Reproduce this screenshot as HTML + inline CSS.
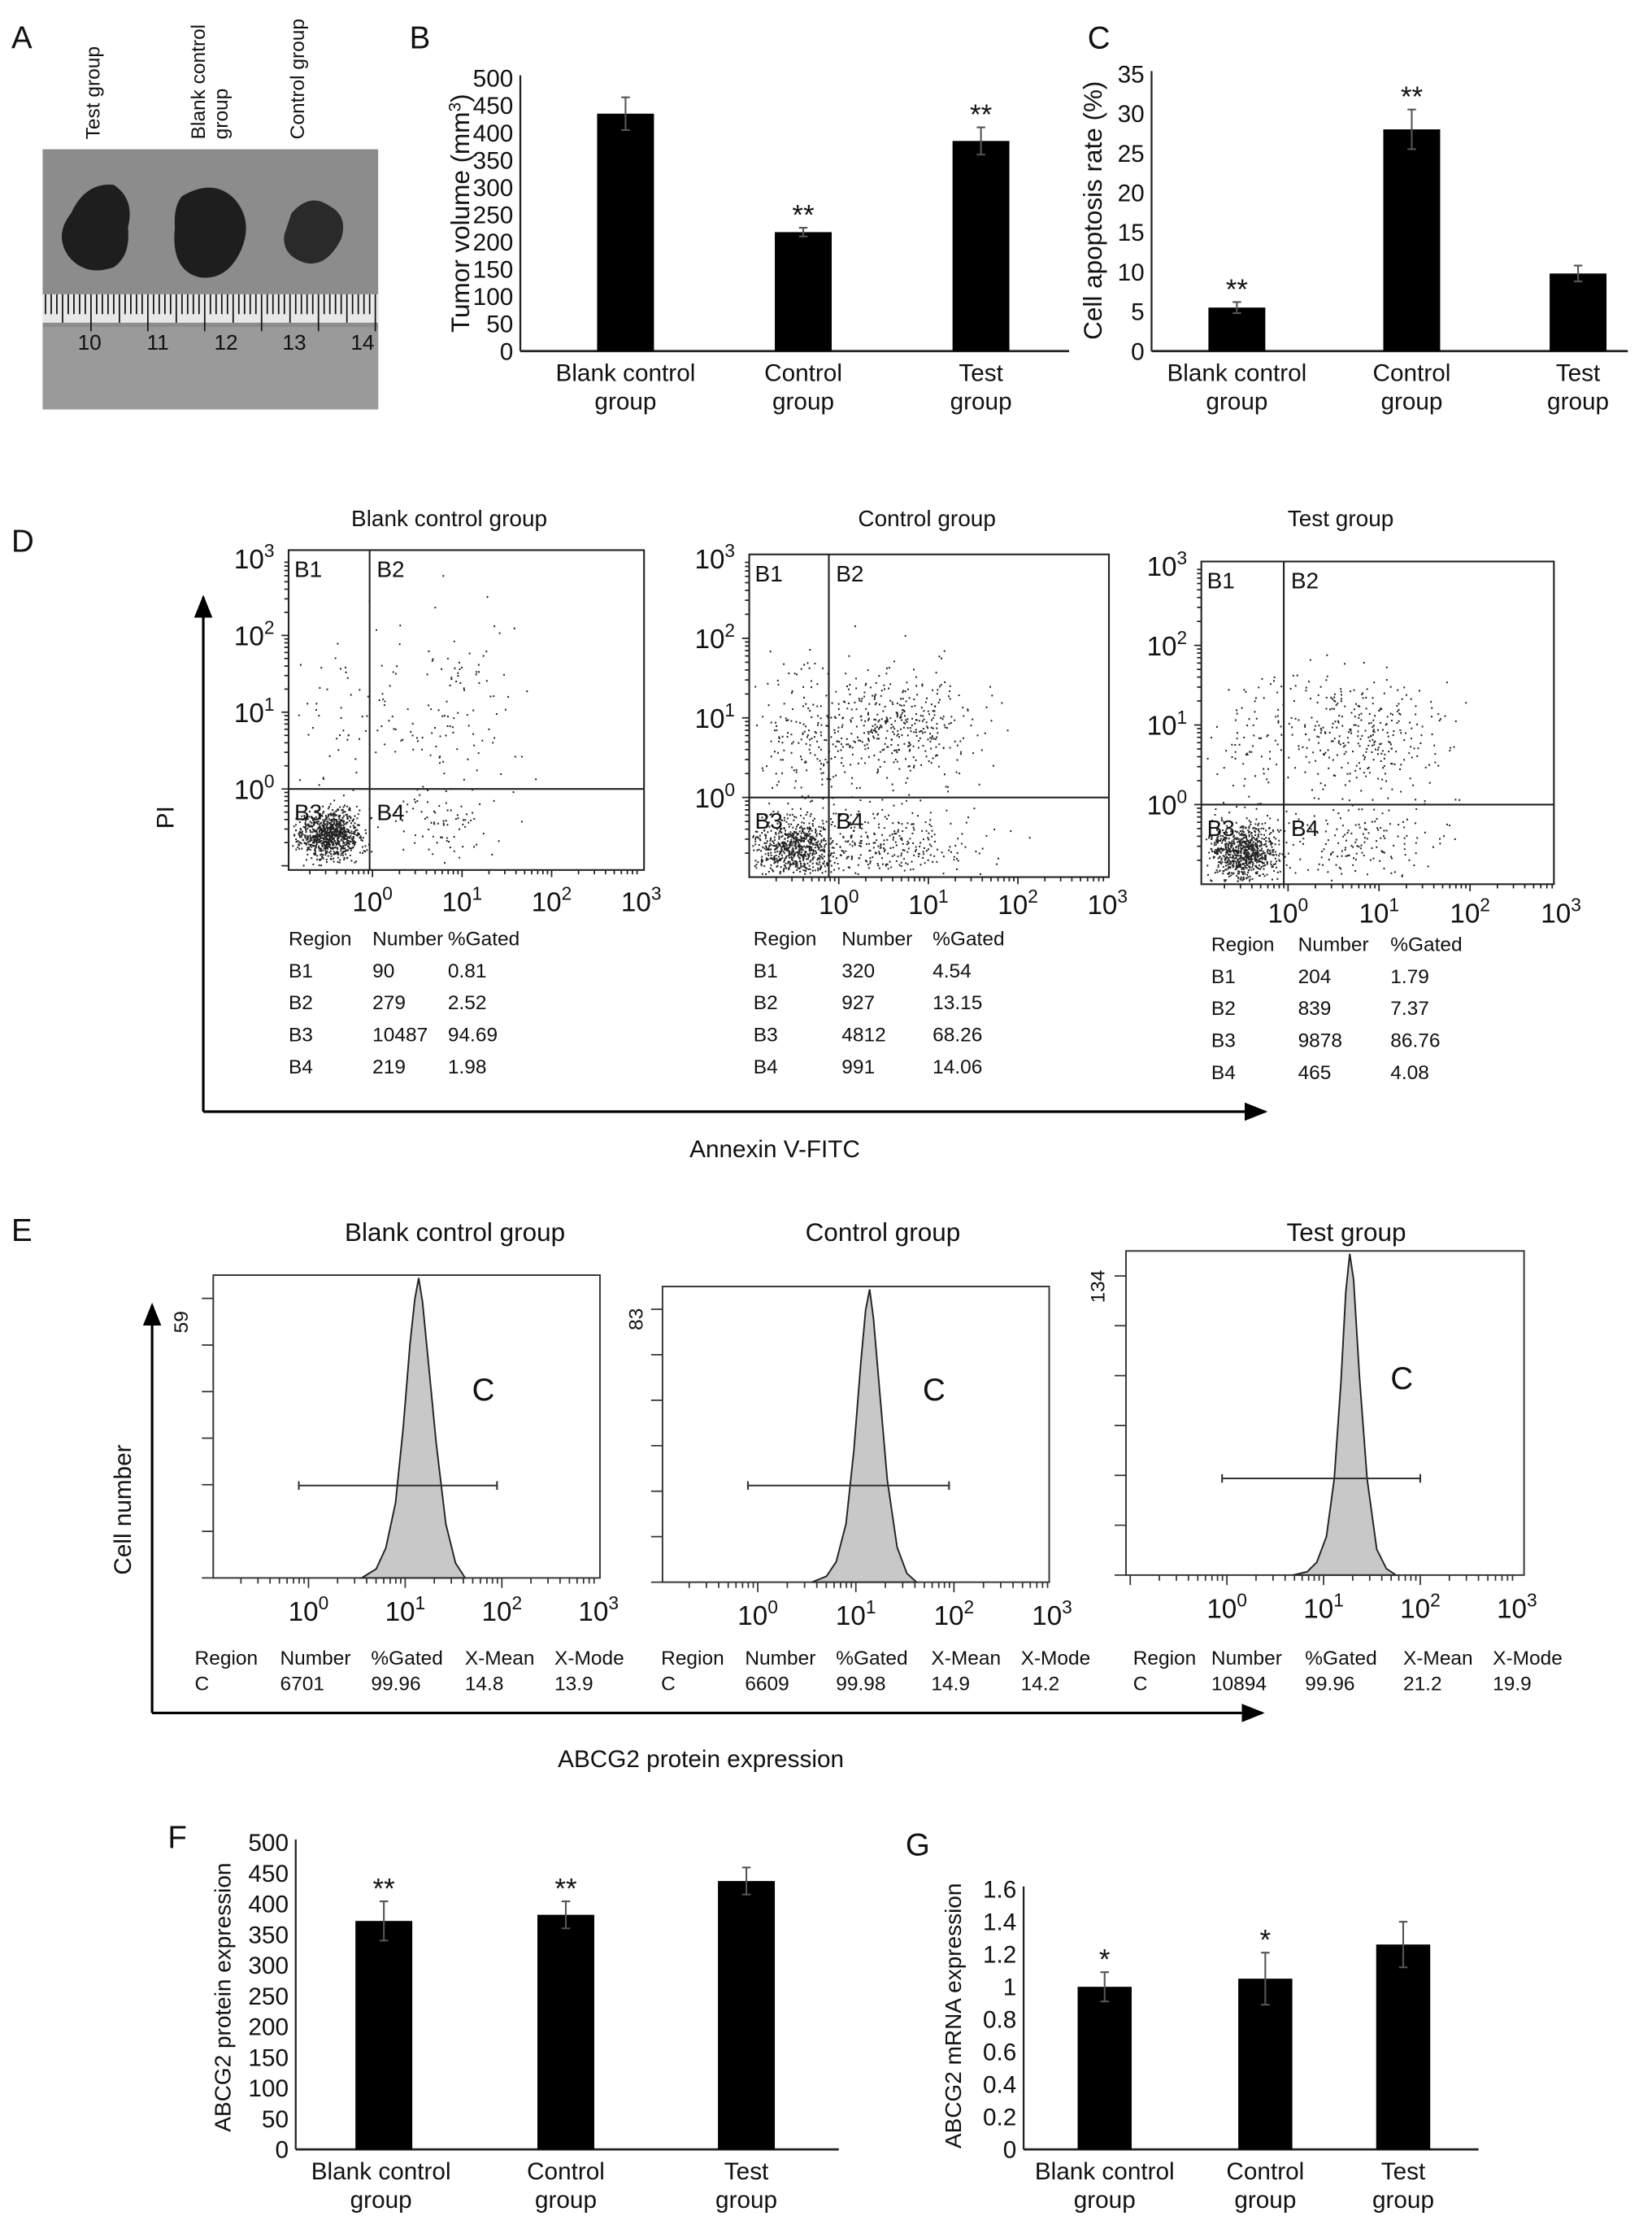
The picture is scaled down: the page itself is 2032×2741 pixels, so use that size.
<!DOCTYPE html>
<html><head><meta charset="utf-8">
<style>
html,body{margin:0;padding:0;background:#fff;}
svg{display:block;font-family:"Liberation Sans",Arial,sans-serif;}
</style></head>
<body>
<svg id="fig" width="2032" height="2741" viewBox="0 0 1162 1568" preserveAspectRatio="none" xmlns="http://www.w3.org/2000/svg">
<defs>
<marker id="arr" viewBox="0 0 10 10" refX="9" refY="5" markerWidth="9" markerHeight="9" orient="auto-start-reverse"><path d="M0,1 L10,5 L0,9 Z" fill="#000"/></marker>
</defs>
</svg>
<script>
// ---------- DATA ----------
const groupsB = ["Blank control|group","Control|group","Test|group"];
const tumorVals = [435, 218, 385];
const tumorErr = [30, 8, 25];
const tumorStars = ["", "**", "**"];
const tumorTicks = [0,50,100,150,200,250,300,350,400,450,500];

const apopVals = [5.5, 28, 9.8];
const apopErr = [0.7, 2.5, 1.0];
const apopStars = ["**", "**", ""];
const apopTicks = [0,5,10,15,20,25,30,35];

const protVals = [372, 382, 437];
const protErr = [32, 22, 22];
const protStars = ["**", "**", ""];
const protTicks = [0,50,100,150,200,250,300,350,400,450,500];

const mrnaVals = [1.0, 1.05, 1.26];
const mrnaErr = [0.09, 0.16, 0.14];
const mrnaStars = ["*", "*", ""];
const mrnaTicks = ["0","0.2","0.4","0.6","0.8","1","1.2","1.4","1.6"];

const dTitles = ["Blank control group","Control group","Test group"];
const dRegions = ["B1","B2","B3","B4"];
const dNumbers = [[90,279,10487,219],[320,927,4812,991],[204,839,9878,465]];
const dGated = [["0.81","2.52","94.69","1.98"],["4.54","13.15","68.26","14.06"],["1.79","7.37","86.76","4.08"]];
// clusters: [logX, logY, sdX, sdY, count]
const dClusters = [
 [[-0.5,-0.6,0.18,0.16,900],[0.9,0.9,0.45,0.6,130],[-0.45,1.0,0.25,0.55,45],[0.8,-0.5,0.35,0.25,70]],
 [[-0.5,-0.65,0.22,0.2,700],[0.6,0.9,0.45,0.35,420],[-0.4,0.7,0.3,0.45,160],[0.5,-0.6,0.5,0.25,330]],
 [[-0.5,-0.6,0.2,0.18,800],[0.8,0.9,0.45,0.4,320],[-0.4,0.8,0.3,0.5,90],[0.8,-0.5,0.45,0.25,160]]
];

const eTitles = ["Blank control group","Control group","Test group"];
const eMaxLabel = ["59","83","134"];
const eStats = [["6701","99.96","14.8","13.9"],["6609","99.98","14.9","14.2"],["10894","99.96","21.2","19.9"]];
const histLogX = [0.55,0.7,0.8,0.9,0.98,1.05,1.1,1.14,1.18,1.24,1.32,1.42,1.52,1.62];
const histY = [[0,0.03,0.1,0.25,0.5,0.78,0.93,1.0,0.92,0.72,0.45,0.18,0.05,0],
               [0,0.02,0.07,0.2,0.45,0.75,0.93,1.0,0.9,0.66,0.35,0.12,0.03,0],
               [0,0.01,0.04,0.12,0.3,0.6,0.88,1.0,0.92,0.62,0.3,0.08,0.02,0]];
const histShift = [0.0, 0.0, 0.13];

// ---------- HELPERS ----------
const NS="http://www.w3.org/2000/svg";
const svg=document.getElementById('fig');
function mk(tag,attrs,parent){const e=document.createElementNS(NS,tag);for(const k in attrs)e.setAttribute(k,attrs[k]);(parent||svg).appendChild(e);return e;}
function txt(s,x,y,size,anchor,parent,extra){const t=mk('text',Object.assign({x:x,y:y,'font-size':size,'text-anchor':anchor||'start',fill:'#111'},extra||{}),parent);t.textContent=s;return t;}
function grp(parent){return mk('g',{},parent);}

function panelLetter(L,x,y){const t=txt(L,x,y,22,'start');

}

// ---------- BAR CHART ----------
function barChart(o){
 const g=grp(); 
 
 const ys=v=>o.y0-(v-o.min)/(o.max-o.min)*(o.y0-o.y1);
 mk('line',{x1:o.ax,y1:o.y1-2,x2:o.ax,y2:o.y0,stroke:'#222','stroke-width':1.3},g);
 const xl=mk('line',{x1:o.ax,y1:o.y0,x2:o.xend,y2:o.y0,stroke:'#222','stroke-width':1.6},g);
  
 o.ticks.forEach(tk=>{const v=parseFloat(tk);const t=txt(String(tk),o.ax-5,ys(v)+6,o.tfs||17,'end',g,{'font-stretch':'condensed'});
   });
 o.vals.forEach((v,i)=>{
  const cx=o.cx[i];
  const r=mk('rect',{x:cx-o.bw/2,y:ys(v),width:o.bw,height:o.y0-ys(v),fill:'#000'},g);
   
  const et=ys(v+o.err[i]), eb=ys(v-o.err[i]);
  const e=mk('path',{d:`M${cx},${et}V${eb}M${cx-3},${et}H${cx+3}M${cx-3},${eb}H${cx+3}`,stroke:'#555','stroke-width':1.2,fill:'none'},g);
   
  if(o.stars[i]){const s=txt(o.stars[i],cx,et-2,20,'middle',g);}
  const parts=groupsB[i].split('|');
  parts.forEach((p,k)=>{const t=txt(p,cx+(o.lx?o.lx[i]:0),o.y0+21+k*20,17,'middle',g);});
 });
 const yt=txt('',0,0,o.yfs||18,'middle',g,{transform:`translate(${o.ytx},${o.yty}) rotate(-90)`});
  
 yt.innerHTML=o.ytitle;
}

// ---------- PANEL A ----------
(function(){
 const g=grp();  
 mk('rect',{x:30,y:105,width:236,height:183,fill:'#8c8c8c'},g);
 mk('rect',{x:30,y:230,width:236,height:58,fill:'#9a9a9a'},g);
 mk('rect',{x:30,y:207,width:236,height:20,fill:'#e8e8e8'},g);
 for(let i=0;i<59;i++){const x=32+i*4;const L=(i%10===8)?26:(i%5===3?20:14);mk('line',{x1:x,y1:207,x2:x,y2:207+L,stroke:'#111','stroke-width':1},g);}
 [10,11,12,13,14].forEach((n,i)=>{const t=txt(String(n),63+i*48,246,15,'middle',g);});
 mk('path',{d:'M50,150 Q60,128 80,130 Q95,140 90,160 Q92,180 80,188 Q60,195 48,180 Q38,165 50,150Z',fill:'#1e1e1e'},g);
 mk('path',{d:'M128,138 Q150,125 165,140 Q178,155 170,175 Q160,198 140,195 Q120,190 123,160 Q122,145 128,138Z',fill:'#1e1e1e'},g);
 mk('path',{d:'M205,150 Q218,135 232,145 Q245,152 240,168 Q230,188 215,185 Q198,180 200,165Z',fill:'#2a2a2a'},g);
 [['Test group',70],['Blank control',144],['group',160],['Control group',214]].forEach(a=>{
  const t=txt(a[0],0,0,14,'start',g,{transform:`translate(${a[1]},98) rotate(-90)`});
   });
})();
panelLetter('A',8,34);

// ---------- PANEL B ----------
panelLetter('B',288,34);
barChart({name:'tumor-volume-chart',vals:tumorVals,err:tumorErr,stars:tumorStars,ticks:tumorTicks,min:0,max:500,ax:366,y0:247,y1:55,xend:752,cx:[440,565,690],bw:40,ytx:330,yty:150,ytitle:'Tumor volume (mm<tspan dy="-6" font-size="12">3</tspan><tspan dy="6">)</tspan>'});

// ---------- PANEL C ----------
panelLetter('C',765,34);
barChart({name:'apoptosis-rate-chart',vals:apopVals,err:apopErr,stars:apopStars,ticks:apopTicks,min:0,max:35,ax:810,y0:247,y1:52,xend:1145,cx:[870,993,1110],bw:40,ytx:775,yty:148,ytitle:'Cell apoptosis rate (%)'});

// ---------- PANEL D ----------
panelLetter('D',8,388);
(function(){
 const a1=mk('line',{x1:143,y1:782,x2:143,y2:420,stroke:'#000','stroke-width':1.8,'marker-end':'url(#arr)'});
  
 const a2=mk('line',{x1:143,y1:782,x2:890,y2:782,stroke:'#000','stroke-width':1.8,'marker-end':'url(#arr)'});
  
 const p=txt('PI',0,0,17,'middle',null,{transform:'translate(122,575) rotate(-90)'});
  
 const an=txt('Annexin V-FITC',545,814,17,'middle');
  
})();
const dGeom=[
 {l:203,r:453,t:387,b:612,qx:260,qy:555,x0:262,dx:63,y0:555,dy:54,tx:316,ty:370,lx:641,tabX:[203,262,315],tabY:665},
 {l:527,r:780,t:390,b:617,qx:583,qy:561,x0:590,dx:63,y0:561,dy:56,tx:652,ty:370,lx:643,tabX:[530,592,656],tabY:665},
 {l:845,r:1093,t:395,b:622,qx:903,qy:566,x0:906,dx:64,y0:566,dy:56,tx:943,ty:370,lx:649,tabX:[852,913,978],tabY:669}
];
function prng(seed){return function(){seed|=0;seed=seed+0x6D2B79F5|0;let t=Math.imul(seed^seed>>>15,1|seed);t=t+Math.imul(t^t>>>7,61|t)^t;return((t^t>>>14)>>>0)/4294967296;};}
function gauss(r){let u=r()||1e-9,v=r();return Math.sqrt(-2*Math.log(u))*Math.cos(2*Math.PI*v);}
dGeom.forEach((G,pi)=>{
 const g=grp();  
 const title=txt(dTitles[pi],G.tx,G.ty,16,'middle',g);  
 const xs=v=>G.x0+v*G.dx, ys=v=>G.y0-v*G.dy;
 const r=prng(17+pi*101);
 let d='';
 dClusters[pi].forEach(c=>{for(let k=0;k<c[4];k++){const x=xs(c[0]+gauss(r)*c[2]),y=ys(c[1]+gauss(r)*c[3]);if(x>G.l+2&&x<G.r-2&&y>G.t+2&&y<G.b-2)d+=`M${x.toFixed(1)},${y.toFixed(1)}h1.1`;}});
 const dots=mk('path',{d:d,stroke:'#222','stroke-width':1.2,fill:'none'},g);
  
 mk('rect',{x:G.l,y:G.t,width:G.r-G.l,height:G.b-G.t,fill:'none',stroke:'#222','stroke-width':1.2},g);
 mk('line',{x1:G.qx,y1:G.t,x2:G.qx,y2:G.b,stroke:'#222','stroke-width':1.2},g);
 mk('line',{x1:G.l,y1:G.qy,x2:G.r,y2:G.qy,stroke:'#222','stroke-width':1.2},g);
 let td='';
 for(let dec=-1;dec<3;dec++)for(let m=1;m<10;m++){const v=dec+Math.log10(m);const x=xs(v);if(x>G.l&&x<=G.r+1)td+=`M${x},${G.b}v${m===1?5:3}`;const y=ys(v);if(y<G.b&&y>=G.t-1)td+=`M${G.l},${y}h${m===1?-5:-3}`;}
 mk('path',{d:td,stroke:'#222','stroke-width':1},g);
 [['B1',G.l+4,G.t+19],['B2',G.qx+5,G.t+19],['B3',G.l+4,G.qy+22],['B4',G.qx+5,G.qy+22]].forEach(q=>{const t=txt(q[0],q[1],q[2],16,'start',g);});
 for(let e=0;e<=3;e++){
  const t=txt('',xs(e),G.lx,19,'middle',g); t.innerHTML='10<tspan dy="-8" font-size="13">'+e+'</tspan>';
   
  const u=txt('',G.l-10,ys(e)+7,19,'end',g); u.innerHTML='10<tspan dy="-8" font-size="13">'+e+'</tspan>';
   
 }
 const hdr=['Region','Number','%Gated'];
 hdr.forEach((h,k)=>{const t=txt(h,G.tabX[k],G.tabY,14,'start',g);});
 dRegions.forEach((rg,i)=>{
  const row=[rg,String(dNumbers[pi][i]),dGated[pi][i]];
  row.forEach((c,k)=>{const t=txt(c,G.tabX[k],G.tabY+22.5*(i+1),14,'start',g);});
 });
});

// ---------- PANEL E ----------
panelLetter('E',8,873);
(function(){
 const a1=mk('line',{x1:107,y1:1205,x2:107,y2:918,stroke:'#000','stroke-width':1.8,'marker-end':'url(#arr)'});
  
 const a2=mk('line',{x1:107,y1:1205,x2:888,y2:1205,stroke:'#000','stroke-width':1.8,'marker-end':'url(#arr)'});
  
 const p=txt('Cell number',0,0,17,'middle',null,{transform:'translate(92,1062) rotate(-90)'});
  
 const an=txt('ABCG2 protein expression',493,1243,17,'middle');
  
})();
const eGeom=[
 {l:150,r:422,t:897,b:1110,x0:217,dx:68,tx:320,ty:873,gy:1045,gx:[-0.1,1.95],cX:340,cY:985,mx:132,my:930,tabX:[137,197,261,327,390],tabY:1171},
 {l:466,r:738,t:905,b:1113,x0:533,dx:69,tx:621,ty:873,gy:1045,gx:[-0.1,1.95],cX:657,cY:985,mx:452,my:928,tabX:[465,524,588,655,718],tabY:1171},
 {l:792,r:1072,t:880,b:1108,x0:863,dx:68,tx:947,ty:873,gy:1040,gx:[-0.05,2.0],cX:986,cY:977,mx:777,my:905,tabX:[797,852,918,987,1050],tabY:1171}
];
eGeom.forEach((G,pi)=>{
 const g=grp();  
 const title=txt(eTitles[pi],G.tx,G.ty,18,'middle',g);  
 const xs=v=>G.x0+v*G.dx, ys=v=>G.b-v*(G.b-G.t-2);
 let d=`M${xs(histLogX[0]+histShift[pi])},${G.b}`;
 histLogX.forEach((lx,i)=>{d+=`L${xs(lx+histShift[pi]).toFixed(1)},${ys(histY[pi][i]).toFixed(1)}`;});
 d+=`L${xs(histLogX[histLogX.length-1]+histShift[pi])},${G.b}Z`;
 const h=mk('path',{d:d,fill:'#c8c8c8',stroke:'#222','stroke-width':1.1},g);
  
 mk('rect',{x:G.l,y:G.t,width:G.r-G.l,height:G.b-G.t,fill:'none',stroke:'#333','stroke-width':1.1},g);
 let td='';
 for(let dec=-1;dec<3;dec++)for(let m=1;m<10;m++){const x=xs(dec+Math.log10(m));if(x>G.l&&x<=G.r+1)td+=`M${x},${G.b}v${m===1?7:4}`;}
 for(let k=0;k<=7;k++){const y=G.b-k*(G.b-G.t)/6.5;if(y>G.t)td+=`M${G.l},${y}h-8`;}
 mk('path',{d:td,stroke:'#333','stroke-width':1},g);
 const gl=mk('path',{d:`M${xs(G.gx[0])},${G.gy}H${xs(G.gx[1])}M${xs(G.gx[0])},${G.gy-3}v6M${xs(G.gx[1])},${G.gy-3}v6`,stroke:'#333','stroke-width':1.2},g);
  
 const c=txt('C',G.cX,G.cY,22,'middle',g);  
 const m=txt(eMaxLabel[pi],0,0,14,'middle',g,{transform:`translate(${G.mx},${G.my}) rotate(-90)`});
  
 for(let e=0;e<=3;e++){const t=txt('',xs(e),G.b+30,19,'middle',g);t.innerHTML='10<tspan dy="-8" font-size="13">'+e+'</tspan>';
   }
 const hdr=['Region','Number','%Gated','X-Mean','X-Mode'];
 hdr.forEach((hh,k)=>{const t=txt(hh,G.tabX[k],G.tabY,14,'start',g);});
 ['C'].concat(eStats[pi]).forEach((cc,k)=>{const t=txt(cc,G.tabX[k],G.tabY+18,14,'start',g);});
});

// ---------- PANEL F ----------
panelLetter('F',118,1300);
barChart({name:'abcg2-protein-chart',vals:protVals,err:protErr,stars:protStars,ticks:protTicks,min:0,max:500,ax:208,y0:1512,y1:1296,xend:590,cx:[270,398,525],bw:40,lx:[-2,0,0],ytx:162,yty:1405,yfs:16,ytitle:'ABCG2 protein expression'});

// ---------- PANEL G ----------
panelLetter('G',637,1305);
barChart({name:'abcg2-mrna-chart',vals:mrnaVals,err:mrnaErr,stars:mrnaStars,ticks:mrnaTicks,min:0,max:1.6,ax:720,y0:1512,y1:1329,xend:1040,cx:[777,890,987],bw:38,ytx:676,yty:1418,yfs:16,ytitle:'ABCG2 mRNA expression'});
</script>
</body></html>
